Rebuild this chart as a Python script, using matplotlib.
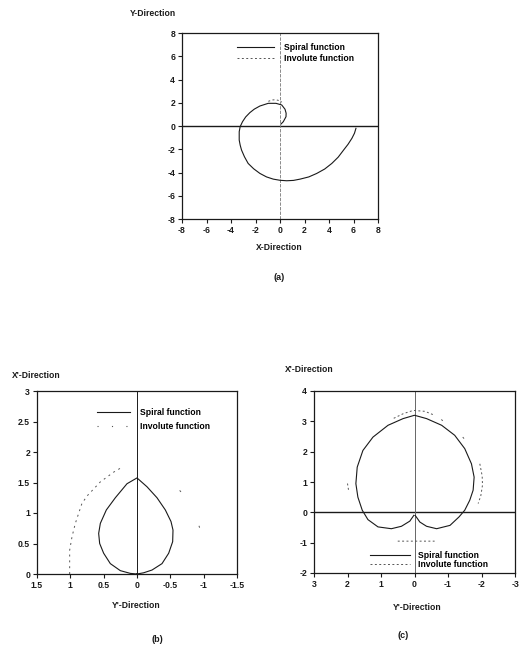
import numpy as np
import matplotlib
matplotlib.use("Agg")
import matplotlib.pyplot as plt

plt.rcParams['font.family'] = ['Liberation Sans', 'DejaVu Sans']
plt.rcParams['font.weight'] = 'bold'
plt.rcParams['axes.unicode_minus'] = False

nan = np.nan

# (a) spiral in the X-Y plane
a_spiral_x = [0.08, 0.27, 0.49, 0.50, 0.41, 0.14, -0.33, -0.96, -1.64, -2.10, -2.46, -2.80, -3.06, -3.25,
              -3.33, -3.33, -3.25, -3.14, -2.90, -2.60, -2.15, -1.64, -1.10, -0.55, 0.0, 0.55, 1.10, 1.64,
              2.35, 3.00, 3.65, 4.23, 4.75, 5.19, 5.55, 5.87, 6.08, 6.20]
a_spiral_y = [0.17, 0.37, 0.80, 1.10, 1.44, 1.81, 1.95, 1.95, 1.72, 1.45, 1.15, 0.78, 0.37, -0.05,
              -0.49, -1.21, -1.65, -2.07, -2.65, -3.22, -3.68, -4.08, -4.38, -4.57, -4.67, -4.71, -4.68, -4.57,
              -4.38, -4.08, -3.70, -3.22, -2.68, -2.07, -1.58, -1.06, -0.62, -0.20]
a_invol_x = [-0.95, -0.65, -0.35, -0.05, 0.15]
a_invol_y = [2.12, 2.24, 2.26, 2.18, 2.05]

# (b) projection, X'-Y' plane
b_spiral_x = [0.0, 0.1, 0.25, 0.4, 0.5, 0.56, 0.575, 0.55, 0.46, 0.325, 0.15, 0.0,
              -0.15, -0.30, -0.425, -0.51, -0.54, -0.535, -0.475, -0.375, -0.225, -0.1, 0.0]
b_spiral_y = [0.0, 0.01, 0.055, 0.17, 0.34, 0.50, 0.665, 0.83, 1.05, 1.25, 1.48, 1.575,
              1.43, 1.25, 1.05, 0.86, 0.72, 0.53, 0.34, 0.17, 0.065, 0.02, 0.0]
b_invol_x = [1.01, 1.01, 0.975, 0.925, 0.825, 0.74, 0.55, 0.35, 0.225, nan,
             -0.64, -0.69, nan, -0.93, -0.95]
b_invol_y = [0.0, 0.39, 0.61, 0.83, 1.16, 1.29, 1.51, 1.67, 1.75, nan,
             1.37, 1.31, nan, 0.79, 0.72]

# (c) projection, X'-Y' plane
c_spiral_x = [0.02, 0.14, 0.39, 0.69, 1.09, 1.39, 1.56, 1.69, 1.75, 1.71, 1.54, 1.24, 0.79, 0.34, 0.0,
              -0.36, -0.81, -1.20, -1.50, -1.70, -1.78, -1.75, -1.65, -1.50, -1.33, -1.06, -0.66, -0.36, -0.16, -0.02]
c_spiral_y = [-0.10, -0.29, -0.46, -0.54, -0.48, -0.24, 0.07, 0.50, 0.945, 1.49, 2.04, 2.48, 2.87, 3.09, 3.20,
              3.09, 2.87, 2.54, 2.10, 1.60, 1.16, 0.73, 0.40, 0.07, -0.15, -0.43, -0.54, -0.46, -0.32, -0.10]
c_invol_x = [0.62, 0.34, 0.04, -0.31, -0.60, nan, -0.80, -0.90, nan, -1.44, -1.52, nan,
             -1.95, -2.02, -2.03, -1.98, -1.90, nan, 2.00, 1.97, nan, 0.50, -0.60]
c_invol_y = [3.10, 3.25, 3.36, 3.33, 3.20, nan, 3.06, 2.97, nan, 2.48, 2.38, nan,
             1.60, 1.20, 0.90, 0.55, 0.29, nan, 0.95, 0.74, nan, -0.95, -0.95]

a_ticks = [-8, -6, -4, -2, 0, 2, 4, 6, 8]
b_xticks = [1.5, 1, 0.5, 0, -0.5, -1, -1.5]
b_xlabels = ['1.5', '1', '0.5', '0', '-0.5', '-1', '-1.5']
b_yticks = [0, 0.5, 1, 1.5, 2, 2.5, 3]
b_ylabels = ['0', '0.5', '1', '1.5', '2', '2.5', '3']
c_xticks = [3, 2, 1, 0, -1, -2, -3]
c_yticks = [-2, -1, 0, 1, 2, 3, 4]

W, H = 523, 648
fig = plt.figure(figsize=(W / 100, H / 100), dpi=100)
fs = 6.2
ink = '#1a1a1a'


def px_axes(l, t, r, b):
    return fig.add_axes([l / W, 1 - b / H, (r - l) / W, (b - t) / H])


def style(ax):
    for s in ax.spines.values():
        s.set_linewidth(0.9)
        s.set_color(ink)
    ax.tick_params(direction='out', length=3, width=0.8, labelsize=fs, pad=2, colors=ink)
    for lab in ax.get_xticklabels() + ax.get_yticklabels():
        lab.set_fontweight('bold')


def ftext(x, y, s, ha='center', size=fs):
    fig.text(x / W, 1 - y / H, s, ha=ha, va='center', fontsize=size, fontweight='bold', color=ink)


# ---- (a)
ax = px_axes(182, 33, 378, 219)
ax.axhline(0, color=ink, lw=1.0)
ax.axvline(0, color='#777777', lw=0.6, ls=(0, (4, 1.5)))
ax.plot(a_spiral_x, a_spiral_y, color=ink, lw=0.8, label='Spiral function')
ax.plot(a_invol_x, a_invol_y, color='#555555', lw=0.7, ls=(0, (2, 2.5)), label='Involute function')
ax.set_xlim(-8, 8)
ax.set_ylim(-8, 8)
ax.set_xticks(a_ticks)
ax.set_yticks(a_ticks)
style(ax)
ax.legend(loc='upper left', bbox_to_anchor=(0.28, 0.945), frameon=False, fontsize=fs,
          handlelength=4.3, handletextpad=1.15, labelspacing=0.25, borderpad=0, borderaxespad=0)
ftext(130, 14, 'Y-Direction', ha='left')
ftext(279, 247, 'X-Direction')
fig.text(279 / W, 1 - 278 / H, '(a)', ha='center', va='center', fontsize=6.5, color=ink)

# ---- (b)
ax = px_axes(37, 391, 237, 574)
ax.axvline(0, color=ink, lw=0.7)
ax.plot(b_spiral_x, b_spiral_y, color=ink, lw=0.8, label='Spiral function')
ax.plot(b_invol_x, b_invol_y, color='#555555', lw=0.7, ls=(0, (2, 4)), label='Involute function')
ax.set_xlim(1.5, -1.5)
ax.set_ylim(0, 3)
ax.set_xticks(b_xticks, b_xlabels)
ax.set_yticks(b_yticks, b_ylabels)
style(ax)
ax.legend(handles=[ax.lines[1], plt.Line2D([], [], color='#555555', lw=0.8, ls=(0, (1, 12)))],
          labels=['Spiral function', 'Involute function'],
          loc='upper left', bbox_to_anchor=(0.30, 0.905), frameon=False, fontsize=fs,
          handlelength=3.85, handletextpad=1.15, labelspacing=0.55, borderpad=0, borderaxespad=0)
ftext(12, 376, "X'-Direction", ha='left')
ftext(136, 605, "Y'-Direction")
fig.text(157 / W, 1 - 640 / H, '(b)', ha='center', va='center', fontsize=6.5, color=ink)

# ---- (c)
ax = px_axes(314, 391, 515, 573)
ax.axhline(0, color=ink, lw=1.0)
ax.axvline(0, color='#666666', lw=0.7)
ax.plot(c_spiral_x, c_spiral_y, color=ink, lw=0.8, label='Spiral function')
ax.plot(c_invol_x, c_invol_y, color='#555555', lw=0.7, ls=(0, (2, 2.5)), label='Involute function')
ax.set_xlim(3, -3)
ax.set_ylim(-2, 4)
ax.set_xticks(c_xticks)
ax.set_yticks(c_yticks)
style(ax)
ax.legend(loc='lower left', bbox_to_anchor=(0.277, 0.022), frameon=False, fontsize=fs,
          handlelength=4.65, handletextpad=0.93, labelspacing=0.0, borderpad=0, borderaxespad=0)
ftext(285, 369, "X'-Direction", ha='left')
ftext(417, 607, "Y'-Direction")
fig.text(403 / W, 1 - 635 / H, '(c)', ha='center', va='center', fontsize=6.5, color=ink)

fig.savefig('out.png', dpi=100)
